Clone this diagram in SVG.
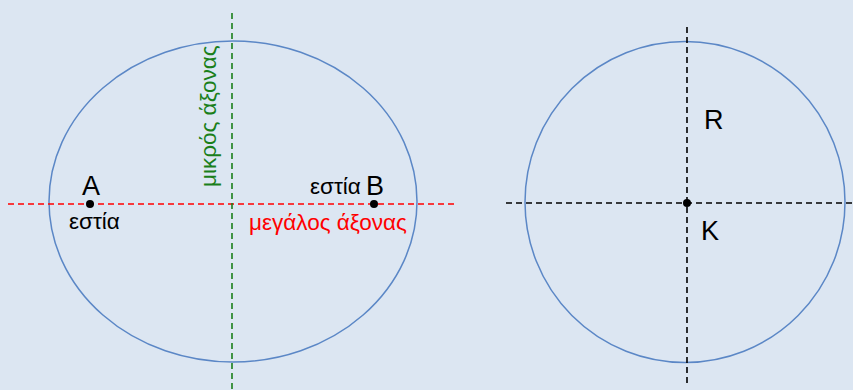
<svg xmlns="http://www.w3.org/2000/svg" width="853" height="390" viewBox="0 0 853 390">
<style>
.shape{fill:none;stroke:#5b87c6;stroke-width:1.5}
.ax{stroke-width:1.6;stroke-dasharray:6 4;fill:none}
.t{font-family:"Liberation Sans",Arial,sans-serif;fill:#000}
.big{font-size:27px}
.sm{font-size:22.5px}
.dot{fill:#000}
</style>
<rect width="853" height="390" fill="#dce6f2"/>
<g id="ellipse"><ellipse class="shape" cx="233" cy="201.5" rx="184" ry="160.5"/></g>
<g id="circle"><ellipse class="shape" cx="685" cy="202" rx="160" ry="160.5"/></g>
<g id="connectors">
<line class="ax" x1="8" y1="204" x2="455" y2="204" stroke="#ff0000"/>
<line class="ax" x1="232" y1="13" x2="232" y2="389" stroke="#1a7f1a"/>
<line class="ax" x1="506" y1="203" x2="853" y2="203" stroke="#000"/>
<line class="ax" x1="687" y1="27" x2="687" y2="386" stroke="#000"/>
</g>
<g id="A"><circle class="dot" cx="90" cy="204" r="4"/><text class="t big" x="82" y="195">A</text><text class="t sm" x="69" y="229">εστία</text></g>
<g id="B"><circle class="dot" cx="374" cy="204" r="4"/><text class="t sm" x="310" y="194">εστία</text><text class="t big" x="366" y="195">B</text></g>
<g id="major"><text class="t sm" x="249" y="230" style="fill:#ff0000">μεγάλος άξονας</text></g>
<g id="minor"><text class="t sm" transform="translate(216,187) rotate(-90)" style="fill:#1a7f1a">μικρός άξονας</text></g>
<g id="K"><circle class="dot" cx="687" cy="203" r="4"/><text class="t big" x="701" y="240">K</text><text class="t big" x="704" y="129">R</text></g>
</svg>
